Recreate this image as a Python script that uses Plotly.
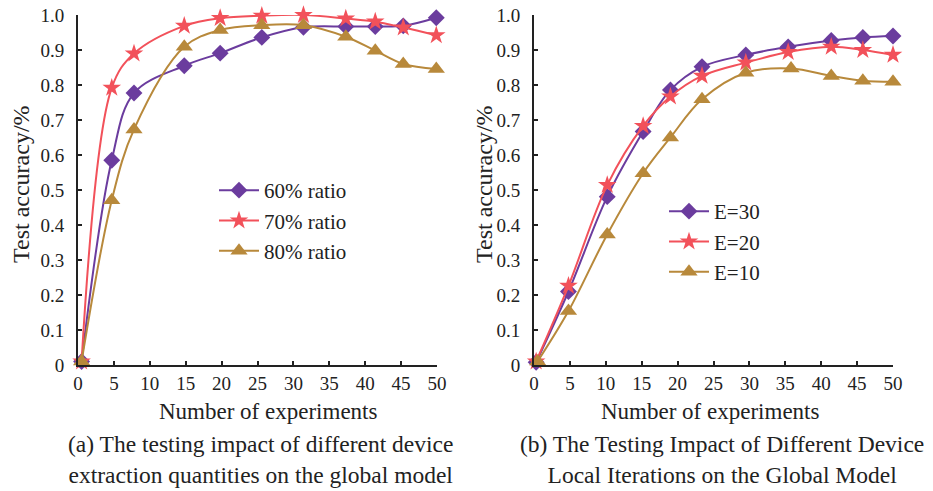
import plotly.graph_objects as go

# ---- data (left: device extraction ratio) ----
x_a = [0.5, 4.7, 7.8, 14.8, 19.8, 25.6, 31.4, 37.3, 41.4, 45.3, 49.9]
ratio60 = [0.01, 0.585, 0.777, 0.855, 0.891, 0.936, 0.965, 0.967, 0.967, 0.969, 0.992]
ratio70 = [0.01, 0.792, 0.890, 0.969, 0.991, 0.998, 1.0, 0.99, 0.981, 0.964, 0.942]
ratio80 = [0.01, 0.471, 0.673, 0.909, 0.957, 0.971, 0.971, 0.938, 0.898, 0.860, 0.846]

# ---- data (right: local iterations) ----
x_b = [0.3, 4.8, 10.2, 15.2, 19.0, 23.4, 29.5, 35.4, 41.4, 45.8, 50.0]
e30 = [0.008, 0.21, 0.481, 0.667, 0.786, 0.852, 0.886, 0.909, 0.927, 0.936, 0.940]
e20 = [0.01, 0.226, 0.514, 0.683, 0.767, 0.826, 0.864, 0.894, 0.909, 0.900, 0.886]
x_b10 = [0.5, 4.8, 10.2, 15.2, 19.0, 23.4, 29.5, 35.8, 41.4, 45.8, 50.0]
e10 = [0.01, 0.154, 0.373, 0.548, 0.650, 0.759, 0.835, 0.847, 0.826, 0.812, 0.809]

xticks = [0, 5, 10, 15, 20, 25, 30, 35, 40, 45, 50]
yticks = [0, 0.1, 0.2, 0.3, 0.4, 0.5, 0.6, 0.7, 0.8, 0.9, 1.0]
ytick_text = ["0", "0.1", "0.2", "0.3", "0.4", "0.5", "0.6", "0.7", "0.8", "0.9", "1.0"]

PURPLE = "#6b3c9e"
RED = "#f2515a"
GOLD = "#b8893b"
FONT = "Liberation Serif, Times New Roman, serif"

fig = go.Figure()

def add(x, y, name, color, symbol, size, xa, ya, legend):
    fig.add_trace(go.Scatter(
        x=x, y=y, name=name, mode="lines+markers",
        line=dict(color=color, width=2, shape="spline", smoothing=1.0),
        marker=dict(color=color, symbol=symbol, size=size),
        xaxis=xa, yaxis=ya, legend=legend, cliponaxis=False,
    ))

add(x_a, ratio60, "60% ratio", PURPLE, "diamond", 13, "x", "y", "legend")
add(x_a, ratio70, "70% ratio", RED, "star", 14, "x", "y", "legend")
add(x_a, ratio80, "80% ratio", GOLD, "triangle-up", 15, "x", "y", "legend")
add(x_b, e30, "E=30", PURPLE, "diamond", 13, "x2", "y2", "legend2")
add(x_b, e20, "E=20", RED, "star", 14, "x2", "y2", "legend2")
add(x_b10, e10, "E=10", GOLD, "triangle-up", 15, "x2", "y2", "legend2")

W, H = 933, 491
def px(v):
    return v / W
def py(v):
    return (H - v) / H

xax = dict(range=[0, 50], tickvals=xticks, ticks="inside", ticklen=4, tickwidth=2,
           tickcolor="#222", showline=True, linecolor="#222", linewidth=2,
           showgrid=False, zeroline=False, tickfont=dict(family=FONT, size=19, color="#222"),
           fixedrange=True, automargin=False)
yax = dict(range=[0, 1.0], tickvals=yticks, ticktext=ytick_text, ticks="inside", ticklen=4,
           tickwidth=2, tickcolor="#222", showline=True, linecolor="#222", linewidth=2,
           showgrid=False, zeroline=False, tickfont=dict(family=FONT, size=19, color="#222"),
           ticklabelstandoff=8, fixedrange=True, automargin=False)

fig.update_layout(
    width=W, height=H,
    margin=dict(l=0, r=0, t=0, b=0, autoexpand=False),
    paper_bgcolor="white", plot_bgcolor="white",
    font=dict(family=FONT, color="#222"),
    xaxis=dict(domain=[px(78), px(437)], anchor="y", **xax),
    yaxis=dict(domain=[py(365), py(15)], anchor="x", **yax),
    xaxis2=dict(domain=[px(534), px(893)], anchor="y2", **xax),
    yaxis2=dict(domain=[py(365), py(15)], anchor="x2", **yax),
    legend=dict(x=px(214), y=py(170), xanchor="left", yanchor="top",
                font=dict(family=FONT, size=21, color="#222"),
                bgcolor="rgba(0,0,0,0)", itemwidth=40, tracegroupgap=0),
    legend2=dict(x=px(664), y=py(191), xanchor="left", yanchor="top",
                 font=dict(family=FONT, size=21, color="#222"),
                 bgcolor="rgba(0,0,0,0)", itemwidth=40, tracegroupgap=0),
    showlegend=True,
)

ann_font = dict(family=FONT, size=23, color="#222")
cap_font = dict(family=FONT, size=23.5, color="#222")
fig.add_annotation(text="Test accuracy/%", x=px(21), y=py(184), xref="paper", yref="paper",
                   textangle=-90, showarrow=False, font=dict(family=FONT, size=24, color="#222"),
                   xanchor="center", yanchor="middle")
fig.add_annotation(text="Test accuracy/%", x=px(484), y=py(184), xref="paper", yref="paper",
                   textangle=-90, showarrow=False, font=dict(family=FONT, size=24, color="#222"),
                   xanchor="center", yanchor="middle")
fig.add_annotation(text="Number of experiments", x=px(268), y=py(411), xref="paper", yref="paper",
                   showarrow=False, font=ann_font, xanchor="center", yanchor="middle")
fig.add_annotation(text="Number of experiments", x=px(710), y=py(411), xref="paper", yref="paper",
                   showarrow=False, font=ann_font, xanchor="center", yanchor="middle")
fig.add_annotation(text="(a) The testing impact of different device<br>extraction quantities on the global model",
                   x=px(260), y=py(459), xref="paper", yref="paper",
                   showarrow=False, font=cap_font, xanchor="center", yanchor="middle")
fig.add_annotation(text="(b) The Testing Impact of Different Device<br>Local Iterations on the Global Model",
                   x=px(722), y=py(459), xref="paper", yref="paper",
                   showarrow=False, font=cap_font, xanchor="center", yanchor="middle")

fig.write_html("out.html", config={"displayModeBar": False},
               post_script="document.body.style.margin='0';document.body.style.overflow='hidden';")
